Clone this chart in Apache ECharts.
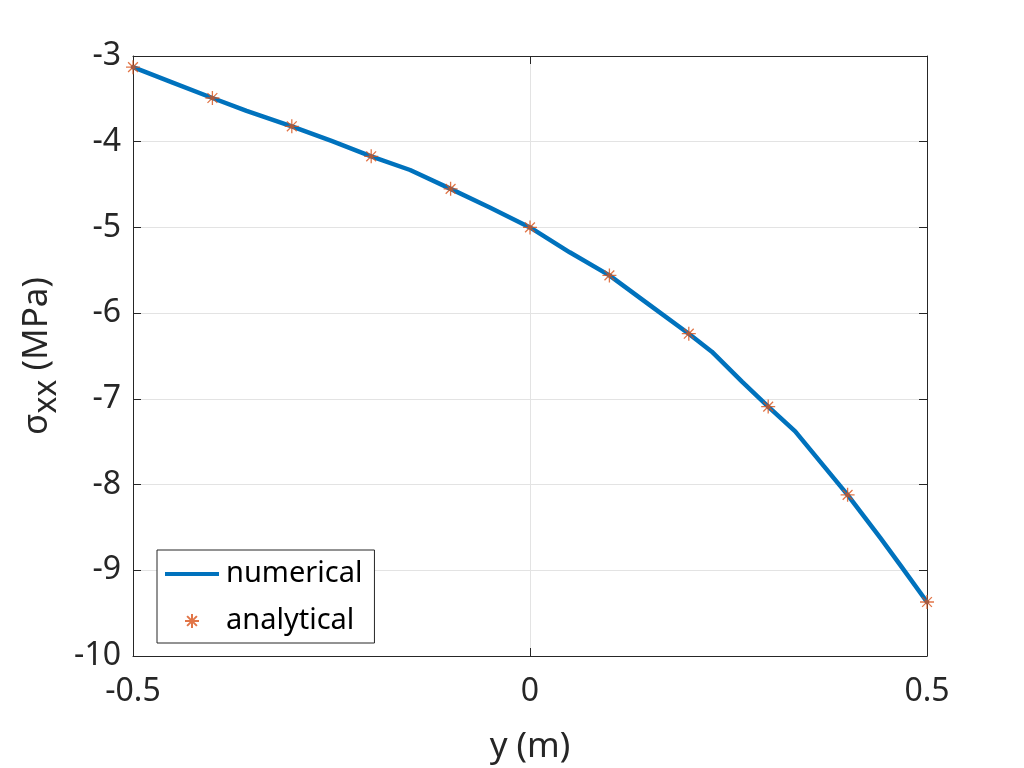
<!DOCTYPE html>
<html>
<head>
<meta charset="utf-8">
<title>sigma_xx</title>
<script src="https://cdn.jsdelivr.net/npm/echarts@6/dist/echarts.min.js"></script>
<style>
    html, body { margin: 0; padding: 0; background: #fff; }
    #chart { width: 1024px; height: 768px; }
</style>
</head>
<body>
<div id="chart"></div>
<script>
// numerical solution (mesh nodes)
const numX = [ -0.5, -0.45, -0.4, -0.357, -0.3, -0.25, -0.2, -0.151, -0.1, -0.05, 0, 0.05, 0.1, 0.15, 0.2, 0.229, 0.267, 0.3, 0.334, 0.4, 0.441, 0.468, 0.5 ];
const numY = [ -3.13, -3.31, -3.49, -3.64, -3.82, -3.99, -4.17, -4.33, -4.55, -4.77, -5.00, -5.29, -5.56, -5.90, -6.24, -6.45, -6.80, -7.09, -7.38, -8.12, -8.62, -8.96, -9.37 ];

// analytical solution
const anaX = [ -0.5, -0.4, -0.3, -0.2, -0.1, 0, 0.1, 0.2, 0.3, 0.4, 0.5 ];
const anaY = [ -3.13, -3.49, -3.82, -4.17, -4.55, -5.00, -5.56, -6.24, -7.09, -8.12, -9.37 ];

const xTicks = [ -0.5, 0.5, 0.5 ];   // min, max, interval
const yTicks = [ -10, -3, 1 ];

const FONT = 'Noto Sans';
const INK = '#262626';
const BLUE = '#0072BD';
const ORANGE = '#D95319';
const STAR = 'path://M0,-1L0,1M-1,0L1,0M-0.7,-0.7L0.7,0.7M-0.7,0.7L0.7,-0.7';
const BAR = 'path://M0,0L54,0L54,4L0,4Z';

const chartContext = {
    build() {
        const pairs = ( xs, ys ) => xs.map( ( x, i ) => [ x, ys[i] ] );
        const box = ( extra ) => Object.assign( {
            axisLine: { show: true, onZero: false, lineStyle: { color: INK, width: 1 } },
            axisTick: { show: true, inside: true, length: 8, lineStyle: { color: INK } },
            axisLabel: { show: false },
            splitLine: { show: false }
        }, extra );

        const option = {
            animation: false,
            backgroundColor: '#fff',
            textStyle: { fontFamily: FONT, color: INK },
            grid: { left: 133, right: 97, top: 56, bottom: 112, containLabel: false, outerBoundsMode: 'none' },
            legend: {
                orient: 'vertical',
                left: 157,
                top: 550,
                padding: [ 8, 12, 6, 8 ],
                itemGap: 15,
                itemWidth: 54,
                itemHeight: 14,
                borderColor: INK,
                borderWidth: 1,
                backgroundColor: '#fff',
                textStyle: { fontFamily: FONT, fontSize: 29, color: '#000', lineHeight: 32, padding: [ 0, 0, 0, 2 ] },
                data: [
                    { name: 'numerical', icon: BAR, itemStyle: { color: BLUE } },
                    { name: 'analytical' }
                ]
            },
            xAxis: [
                {
                    type: 'value',
                    min: xTicks[0], max: xTicks[1], interval: xTicks[2],
                    name: 'y (m)',
                    nameLocation: 'middle',
                    nameGap: 74,
                    nameTextStyle: { fontFamily: FONT, fontSize: 35, color: INK },
                    axisLine: { show: true, onZero: false, lineStyle: { color: INK, width: 1 } },
                    axisTick: { show: true, inside: true, length: 8, lineStyle: { color: INK } },
                    axisLabel: { fontFamily: FONT, fontSize: 32, color: INK, margin: 20 },
                    splitLine: { show: true, lineStyle: { color: '#e3e3e3', width: 1 } }
                },
                box( { type: 'value', position: 'top', min: xTicks[0], max: xTicks[1], interval: xTicks[2] } )
            ],
            yAxis: [
                {
                    type: 'value',
                    min: yTicks[0], max: yTicks[1], interval: yTicks[2],
                    name: '{s|σ}{sub|xx}{s| (MPa)}',
                    nameLocation: 'middle',
                    nameGap: 72,
                    nameRotate: 90,
                    nameTextStyle: {
                        fontFamily: FONT, fontSize: 35, color: INK,
                        rich: {
                            s: { fontFamily: FONT, fontSize: 35, color: INK, verticalAlign: 'top', lineHeight: 38 },
                            sub: { fontFamily: FONT, fontSize: 32, color: INK, verticalAlign: 'top', lineHeight: 38, padding: [ 12, 0, 0, 0 ] }
                        }
                    },
                    axisLine: { show: true, onZero: false, lineStyle: { color: INK, width: 1 } },
                    axisTick: { show: true, inside: true, length: 8, lineStyle: { color: INK } },
                    axisLabel: { fontFamily: FONT, fontSize: 32, color: INK, margin: 12 },
                    splitLine: { show: true, lineStyle: { color: '#e3e3e3', width: 1 } }
                },
                box( { type: 'value', position: 'right', min: yTicks[0], max: yTicks[1], interval: yTicks[2] } )
            ],
            series: [
                {
                    name: 'numerical',
                    type: 'line',
                    data: pairs( numX, numY ),
                    symbol: 'none',
                    showSymbol: false,
                    smooth: false,
                    lineStyle: { color: BLUE, width: 4.5, cap: 'round', join: 'round' },
                    itemStyle: { color: BLUE },
                    z: 2
                },
                {
                    name: 'analytical',
                    type: 'scatter',
                    data: pairs( anaX, anaY ),
                    symbol: STAR,
                    symbolSize: 14,
                    itemStyle: { color: ORANGE, borderColor: ORANGE, borderWidth: 1.3 },
                    z: 3
                }
            ]
        };

        const c = echarts.init( document.getElementById( 'chart' ), null, { renderer: 'canvas' } );
        c.setOption( option );
    }
};

!(function () {
    document.addEventListener( "DOMContentLoaded", function () {
        Object.values( chartContext ).forEach( f => f() );
    } );
})();
</script>
</body>
</html>
